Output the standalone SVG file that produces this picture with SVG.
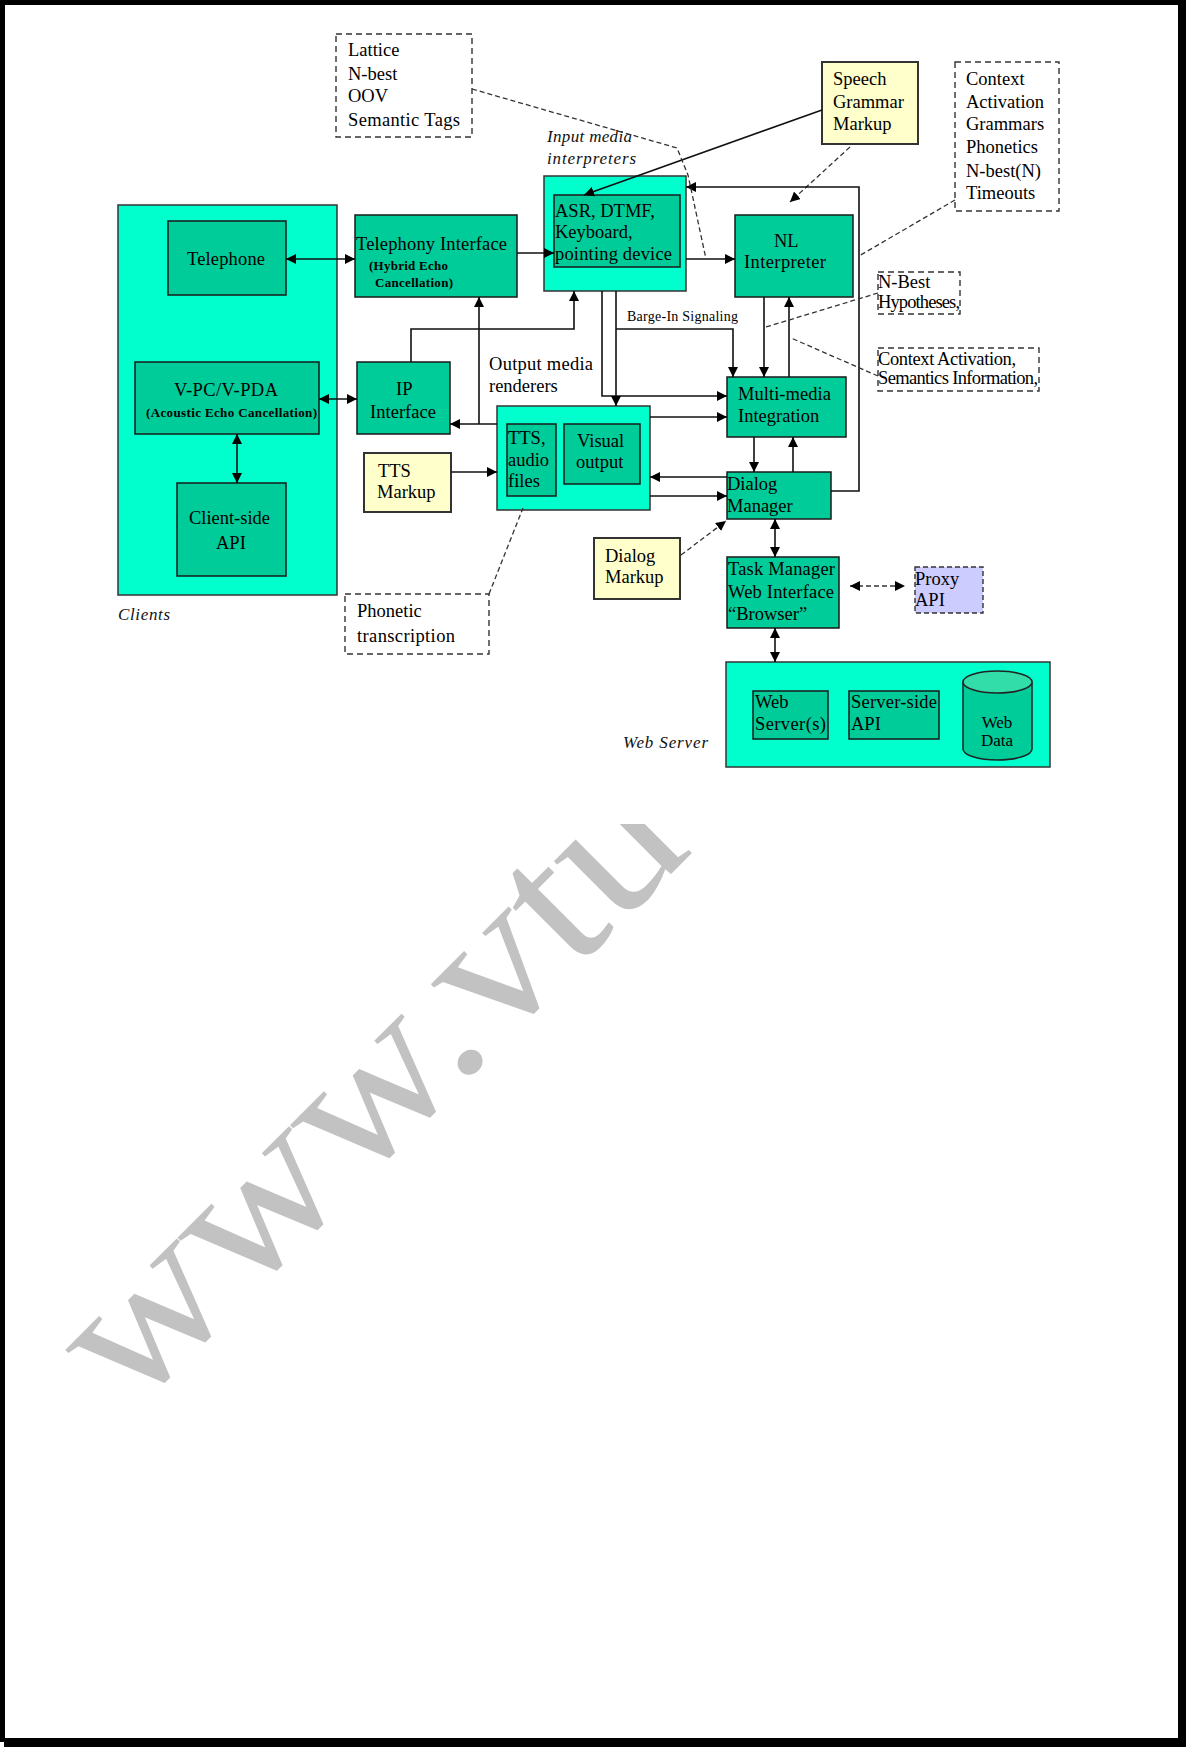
<svg xmlns="http://www.w3.org/2000/svg" width="1186" height="1747" viewBox="0 0 1186 1747">
<defs>
<style>
.t{font-family:"Liberation Serif","Times New Roman",serif;font-size:18.5px;fill:#000}
.s{font-family:"Liberation Serif","Times New Roman",serif;font-size:13px;font-weight:bold;fill:#000}
.i{font-family:"Liberation Serif","Times New Roman",serif;font-size:17px;font-style:italic;fill:#111}
.aqua{fill:#00FFCC;stroke:#333;stroke-width:1.5}
.grn{fill:#00CC99;stroke:#1a1a1a;stroke-width:1.5}
.yel{fill:#FFFFCC;stroke:#333;stroke-width:2}
.note{fill:#fff;stroke:#333;stroke-width:1.4;stroke-dasharray:6,4}
.c{fill:none;stroke:#111;stroke-width:1.6}
.d{fill:none;stroke:#333;stroke-width:1.3;stroke-dasharray:5,3}
</style>
<marker id="ah" viewBox="0 0 10 10" refX="10" refY="5" markerWidth="10" markerHeight="10" markerUnits="userSpaceOnUse" orient="auto-start-reverse">
<path d="M0,0 L10,5 L0,10 z" fill="#000"/>
</marker>
<clipPath id="wmclip"><rect x="0" y="824" width="1186" height="923"/></clipPath>
</defs>
<rect x="0" y="0" width="1186" height="1747" fill="#fff"/>
<g id="watermark" clip-path="url(#wmclip)">
<text transform="translate(130,1415) rotate(-45) scale(1.1,1)" font-family="Liberation Serif, serif" font-size="200" fill="#C2C2C2">www.vtu</text>
</g>
<g id="page-border" fill="#000">
<rect x="0" y="0" width="1186" height="5"/>
<rect x="0" y="0" width="5" height="1742"/>
<rect x="1178" y="0" width="8" height="1747"/>
<rect x="4" y="1738" width="1182" height="9"/>
</g>
<g id="clients">
<rect class="aqua" x="118" y="205" width="219" height="390"/>
<text class="i" x="118" y="620" textLength="52">Clients</text>
</g>
<g id="telephone">
<rect class="grn" x="168" y="221" width="118" height="74"/>
<text class="t" x="187" y="265" textLength="78">Telephone</text>
</g>
<g id="vpc">
<rect class="grn" x="135" y="362" width="184" height="72"/>
<text class="t" x="174" y="396" textLength="104">V-PC/V-PDA</text>
<text class="s" x="146" y="417" textLength="171">(Acoustic Echo Cancellation)</text>
</g>
<g id="client-api">
<rect class="grn" x="177" y="483" width="109" height="93"/>
<text class="t" x="189" y="524" textLength="81">Client-side</text>
<text class="t" x="216" y="549">API</text>
</g>
<g id="telephony">
<rect class="grn" x="355" y="215" width="162" height="82"/>
<text class="t" x="356" y="250" textLength="151">Telephony Interface</text>
<text class="s" x="369" y="270" textLength="79">(Hybrid Echo</text>
<text class="s" x="375" y="287" textLength="78">Cancellation)</text>
</g>
<g id="ip">
<rect class="grn" x="357" y="362" width="93" height="72"/>
<text class="t" x="396" y="395">IP</text>
<text class="t" x="370" y="418" textLength="66">Interface</text>
</g>
<g id="tts-markup">
<rect class="yel" x="364" y="453" width="87" height="59"/>
<text class="t" x="378" y="477">TTS</text>
<text class="t" x="377" y="498">Markup</text>
</g>
<g id="phonetic">
<rect class="note" x="345" y="594" width="144" height="60"/>
<text class="t" x="357" y="617">Phonetic</text>
<text class="t" x="357" y="642" textLength="98">transcription</text>
</g>
<g id="lattice">
<rect class="note" x="336" y="34" width="136" height="103"/>
<text class="t" x="348" y="56">Lattice</text>
<text class="t" x="348" y="80">N-best</text>
<text class="t" x="348" y="102">OOV</text>
<text class="t" x="348" y="126" textLength="112">Semantic Tags</text>
</g>
<g id="asr">
<rect class="aqua" x="544" y="176" width="142" height="115"/>
<rect class="grn" x="554" y="195" width="126" height="72"/>
<text class="t" x="555" y="217">ASR, DTMF,</text>
<text class="t" x="555" y="238">Keyboard,</text>
<text class="t" x="555" y="260" textLength="117">pointing device</text>
<text class="i" x="547" y="142" textLength="85">Input media</text>
<text class="i" x="547" y="164" textLength="89">interpreters</text>
</g>
<g id="speech-grammar">
<rect class="yel" x="822" y="62" width="96" height="82"/>
<text class="t" x="833" y="85">Speech</text>
<text class="t" x="833" y="108">Grammar</text>
<text class="t" x="833" y="130">Markup</text>
</g>
<g id="context">
<rect class="note" x="955" y="62" width="104" height="149"/>
<text class="t" x="966" y="85">Context</text>
<text class="t" x="966" y="108">Activation</text>
<text class="t" x="966" y="130">Grammars</text>
<text class="t" x="966" y="153">Phonetics</text>
<text class="t" x="966" y="177">N-best(N)</text>
<text class="t" x="966" y="199">Timeouts</text>
</g>
<g id="nl">
<rect class="grn" x="735" y="215" width="118" height="82"/>
<text class="t" x="774" y="247">NL</text>
<text class="t" x="744" y="268" textLength="82">Interpreter</text>
</g>
<g id="nbest">
<rect class="note" x="878" y="272" width="82" height="42"/>
<text class="t" x="878" y="288">N-Best</text>
<text class="t" x="878" y="308" textLength="82">Hypotheses,</text>
</g>
<g id="ctx-sem">
<rect class="note" x="878" y="348" width="161" height="43"/>
<text class="t" x="878" y="365" textLength="138">Context Activation,</text>
<text class="t" x="878" y="384" textLength="160">Semantics Information,</text>
</g>
<g id="output-renderers">
<rect class="aqua" x="497" y="406" width="153" height="104"/>
<rect class="grn" x="507" y="424" width="49" height="72"/>
<rect class="grn" x="564" y="424" width="76" height="60"/>
<text class="t" x="508" y="444">TTS,</text>
<text class="t" x="508" y="466">audio</text>
<text class="t" x="508" y="487">files</text>
<text class="t" x="577" y="447">Visual</text>
<text class="t" x="576" y="468">output</text>
<text class="t" x="489" y="370" textLength="104">Output media</text>
<text class="t" x="489" y="392">renderers</text>
</g>
<g id="multimedia">
<rect class="grn" x="727" y="377" width="119" height="60"/>
<text class="t" x="738" y="400" textLength="93">Multi-media</text>
<text class="t" x="738" y="422">Integration</text>
</g>
<g id="dialog-manager">
<rect class="grn" x="727" y="472" width="104" height="47"/>
<text class="t" x="727" y="490">Dialog</text>
<text class="t" x="727" y="512">Manager</text>
</g>
<g id="dialog-markup">
<rect class="yel" x="594" y="538" width="86" height="61"/>
<text class="t" x="605" y="562">Dialog</text>
<text class="t" x="605" y="583">Markup</text>
</g>
<g id="task-manager">
<rect class="grn" x="727" y="557" width="112" height="71"/>
<text class="t" x="728" y="575" textLength="107">Task Manager</text>
<text class="t" x="728" y="598" textLength="106">Web Interface</text>
<text class="t" x="728" y="620">“Browser”</text>
</g>
<g id="proxy">
<rect x="915" y="567" width="68" height="46" fill="#CCCCFF" stroke="#333" stroke-width="1.4" stroke-dasharray="5,3"/>
<text class="t" x="915" y="585">Proxy</text>
<text class="t" x="915" y="606">API</text>
</g>
<g id="web-server">
<rect class="aqua" x="726" y="662" width="324" height="105"/>
<rect class="grn" x="753" y="691" width="75" height="48"/>
<rect class="grn" x="849" y="691" width="90" height="48"/>
<text class="t" x="755" y="708">Web</text>
<text class="t" x="755" y="730" textLength="71">Server(s)</text>
<text class="t" x="851" y="708" textLength="86">Server-side</text>
<text class="t" x="851" y="730">API</text>
<path d="M963,682 L963,749 A34.5,11 0 0 0 1032,749 L1032,682" fill="#00CC99" stroke="#222" stroke-width="1.5"/>
<ellipse cx="997.5" cy="682" rx="34.5" ry="11" fill="#33DDAA" stroke="#222" stroke-width="1.5"/>
<text class="t" x="997" y="728" text-anchor="middle" style="font-size:17px">Web</text>
<text class="t" x="997" y="746" text-anchor="middle" style="font-size:17px">Data</text>
<text class="i" x="623" y="748" textLength="85">Web Server</text>
</g>
<g id="connectors">
<line class="c" x1="286" y1="259" x2="355" y2="259" marker-start="url(#ah)" marker-end="url(#ah)"/>
<line class="c" x1="517" y1="253" x2="554" y2="253" marker-end="url(#ah)"/>
<line class="c" x1="822" y1="110" x2="584" y2="195" marker-end="url(#ah)"/>
<line class="d" x1="850" y1="147" x2="790" y2="202" marker-end="url(#ah)"/>
<line class="c" x1="686" y1="259" x2="735" y2="259" marker-end="url(#ah)"/>
<polyline class="c" points="831,491 859,491 859,187 686,187" marker-end="url(#ah)"/>
<polyline class="c" points="411,362 411,329 574,329 574,291" marker-end="url(#ah)"/>
<line class="c" x1="497" y1="424" x2="450" y2="424" marker-end="url(#ah)"/>
<line class="c" x1="479" y1="424" x2="479" y2="297" marker-end="url(#ah)"/>
<line class="c" x1="319" y1="399" x2="357" y2="399" marker-start="url(#ah)" marker-end="url(#ah)"/>
<line class="c" x1="237" y1="434" x2="237" y2="483" marker-start="url(#ah)" marker-end="url(#ah)"/>
<line class="c" x1="451" y1="472" x2="497" y2="472" marker-end="url(#ah)"/>
<polyline class="c" points="602,291 602,396 727,396" marker-end="url(#ah)"/>
<line class="c" x1="616" y1="291" x2="616" y2="406" marker-end="url(#ah)"/>
<polyline class="c" points="616,329 733,329 733,377" marker-end="url(#ah)"/>
<text x="627" y="321" font-family="Liberation Serif, serif" font-size="14" textLength="111">Barge-In Signaling</text>
<line class="c" x1="764" y1="297" x2="764" y2="377" marker-end="url(#ah)"/>
<line class="c" x1="789" y1="377" x2="789" y2="297" marker-end="url(#ah)"/>
<line class="c" x1="650" y1="417" x2="727" y2="417" marker-end="url(#ah)"/>
<line class="c" x1="727" y1="477" x2="650" y2="477" marker-end="url(#ah)"/>
<line class="c" x1="650" y1="496" x2="727" y2="496" marker-end="url(#ah)"/>
<line class="c" x1="754" y1="437" x2="754" y2="472" marker-end="url(#ah)"/>
<line class="c" x1="793" y1="472" x2="793" y2="437" marker-end="url(#ah)"/>
<line class="c" x1="775" y1="519" x2="775" y2="557" marker-start="url(#ah)" marker-end="url(#ah)"/>
<line class="c" x1="775" y1="628" x2="775" y2="662" marker-start="url(#ah)" marker-end="url(#ah)"/>
<line class="d" x1="850" y1="586" x2="905" y2="586" marker-start="url(#ah)" marker-end="url(#ah)"/>
<line class="d" x1="681" y1="555" x2="726" y2="521" marker-end="url(#ah)"/>
<polyline class="d" points="472,89 677,148 688,175 706,259"/>
<line class="d" x1="955" y1="200" x2="859" y2="256"/>
<line class="d" x1="878" y1="293" x2="766" y2="327"/>
<line class="d" x1="878" y1="376" x2="791" y2="338"/>
<line class="d" x1="489" y1="594" x2="523" y2="508"/>
</g>
</svg>
